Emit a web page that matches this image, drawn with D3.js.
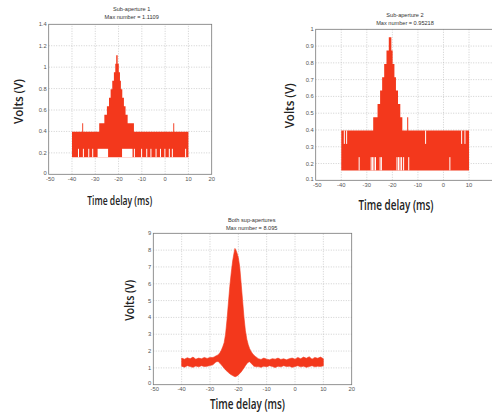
<!DOCTYPE html>
<html>
<head>
<meta charset="utf-8">
<script src="https://cdn.jsdelivr.net/npm/d3@7"></script>
<style>
html, body { margin:0; padding:0; background:#fff; }
svg { display:block; }
</style>
</head>
<body>
<svg id="chart" width="492" height="412"></svg>
<script>
// shared axis ticks
var xTicks = [-50, -40, -30, -20, -10, 0, 10, 20];
var yTicks1 = [0, 0.2, 0.4, 0.6, 0.8, 1, 1.2, 1.4];
var yTicks2 = [0.1, 0.2, 0.3, 0.4, 0.5, 0.6, 0.7, 0.8, 0.9, 1];
var yTicks3 = [0, 1, 2, 3, 4, 5, 6, 7, 8, 9];

var titles1 = ["Sub-aperture 1", "Max number = 1.1109"];
var titles2 = ["Sub-aperture 2", "Max number = 0.95218"];
var titles3 = ["Both sup-apertures", "Max number = 8.095"];

// sub-aperture 1 : quantised signal, upper envelope as steps
var upT1 = [-40, -35.6, -35.2, -28.3, -26.1, -25.0, -24.1, -23.4, -22.7, -22.0, -21.4, -21.0, -20.4, -19.9, -19.4, -19.0, -18.4, -17.7, -17.0, -16.1, -13.4, 3.5, 3.9, 10];
var upV1 = [0.397, 0.476, 0.397, 0.476, 0.555, 0.635, 0.714, 0.793, 0.873, 0.952, 1.031, 1.111, 1.031, 0.952, 0.873, 0.793, 0.714, 0.635, 0.555, 0.476, 0.397, 0.476, 0.397, 0.397];
var floor1 = 0.159;
var notch1 = [[-29, -24.5], [-18.5, -14]];          // lower edge at 0.238
var gapLo1 = [-37.2, -35.1, -32.8, -31.1, -13.2, -10.1, -7.9, -6.1, -3.9, -2.0, -0.1, 1.8, 3.1, 8.8];
var gapHi1 = [];

// sub-aperture 2
var upT2 = [-40, -27.5, -25.8, -24.8, -24.0, -23.2, -22.3, -21.4, -20.4, -19.9, -19.2, -18.6, -17.8, -16.9, -16.1, -14.2, -13.8, 10];
var upV2 = [0.397, 0.476, 0.555, 0.635, 0.714, 0.793, 0.873, 0.952, 0.873, 0.793, 0.714, 0.635, 0.555, 0.476, 0.397, 0.476, 0.397, 0.397];
var floor2 = 0.159;
var notch2 = [];
var gapLo2 = [-33.0, -28.3, -27.8, -27.2, -26.6, -24.8, -24.3, -18.2, -17.6, -17.0, -16.4, -15.6, -13.6, 2.5];
var gapHi2 = [-38.8, -37.9, -7.0, 7.1, 8.4];

// both sub-apertures : envelope of the dense trace
var t3 = [-40, -39, -38, -37, -36, -35, -34, -33, -32, -31, -30,
  -29, -28.5, -28, -27.5, -27, -26.5, -26, -25.5, -25, -24.5, -24, -23.5, -23, -22.5, -22, -21.5, -21.2, -21,
  -20.5, -20, -19.5, -19, -18.5, -18, -17.5, -17, -16.5, -16, -15.5, -15, -14.5, -14, -13.5,
  -13, -12, -11, -10, -9, -8, -7, -6, -5, -4, -3, -2, -1, 0, 1, 2, 3, 4, 5, 6, 7, 8, 9, 10];
var hi3 = [1.58, 1.52, 1.6, 1.54, 1.64, 1.52, 1.58, 1.54, 1.62, 1.56, 1.62,
  1.62, 1.65, 1.7, 1.74, 1.8, 1.9, 2.05, 2.25, 2.5, 3.0, 3.85, 4.85, 5.85, 6.65, 7.35, 7.85, 8.1, 8.05,
  7.85, 7.55, 7.0, 6.0, 5.0, 4.0, 3.2, 2.7, 2.38, 2.14, 1.98, 1.85, 1.75, 1.68, 1.62,
  1.55, 1.5, 1.58, 1.52, 1.48, 1.55, 1.52, 1.58, 1.5, 1.54, 1.48, 1.55, 1.58, 1.52, 1.62, 1.54, 1.64, 1.57, 1.66, 1.52, 1.62, 1.57, 1.64, 1.54];
var lo3 = [1.1, 1.04, 1.13, 1.08, 1.03, 1.11, 1.06, 1.13, 1.08, 1.1, 1.14,
  1.18, 1.26, 1.34, 1.38, 1.36, 1.28, 1.18, 1.08, 0.98, 0.88, 0.8, 0.72, 0.65, 0.59, 0.54, 0.5, 0.48, 0.48,
  0.52, 0.58, 0.66, 0.76, 0.88, 1.0, 1.13, 1.25, 1.34, 1.36, 1.28, 1.18, 1.1, 1.08, 1.06,
  1.08, 1.03, 1.1, 1.06, 1.13, 1.08, 1.02, 1.1, 1.06, 1.13, 1.08, 1.1, 1.03, 1.08, 1.13, 1.06, 1.1, 1.03, 1.08, 1.13, 1.06, 1.1, 1.08, 1.12];

var red = "#f3381c";
var svg = d3.select("#chart");
var W = 492;

function fmt(v) { return String(+v.toFixed(2)); }

function frame(o) {
  var x = d3.scaleLinear().domain([-50, 20]).range(o.xr);
  var y = d3.scaleLinear().domain([o.yt[0], o.yt[o.yt.length - 1]]).range(o.yr);
  var g = svg.append("g");
  var x0 = o.xr[0], x1 = o.xr[1], y0 = o.yr[0], y1 = o.yr[1];

  // dotted grid
  g.selectAll(".gx").data(xTicks.slice(1, -1)).enter().append("line")
    .attr("x1", d => x(d)).attr("x2", d => x(d)).attr("y1", y0).attr("y2", y1)
    .attr("stroke", "#bbb").attr("stroke-width", 0.7).attr("stroke-dasharray", "1,1.5");
  g.selectAll(".gy").data(o.yt.slice(1, -1)).enter().append("line")
    .attr("x1", x0).attr("x2", x1).attr("y1", d => y(d)).attr("y2", d => y(d))
    .attr("stroke", "#bbb").attr("stroke-width", 0.7).attr("stroke-dasharray", "1,1.5");

  o.data = g.append("g");

  // box
  g.append("rect").attr("x", x0).attr("y", y1).attr("width", x1 - x0).attr("height", y0 - y1)
    .attr("fill", "none").attr("stroke", "#777").attr("stroke-width", 0.8);

  // tick labels (labels past the picture edge are left out)
  g.selectAll(".tx").data(xTicks.filter(d => x(d) + 5 < W)).enter().append("text")
    .attr("x", d => x(d) + (d === -50 ? 1.5 : 0)).attr("y", y0 + 4.6).attr("dy", "0.35em")
    .attr("text-anchor", "middle").attr("font-family", "Liberation Sans, Arial, sans-serif")
    .attr("font-size", 5.8).attr("fill", "#555").text(d => d);
  g.selectAll(".ty").data(o.yt).enter().append("text")
    .attr("x", x0 - 2).attr("y", (d, i) => y(d) - (i === 0 ? 1.5 : 0)).attr("dy", "0.35em")
    .attr("text-anchor", "end").attr("font-family", "Liberation Sans, Arial, sans-serif")
    .attr("font-size", 5.8).attr("fill", "#555").text(fmt);

  // title lines
  g.selectAll(".tt").data(o.titles).enter().append("text")
    .attr("x", o.tx).attr("y", (d, i) => o.ty + i * 7.8).attr("dy", "0.35em")
    .attr("text-anchor", "middle").attr("font-family", "Liberation Sans, Arial, sans-serif")
    .attr("font-size", 5.6).attr("fill", "#333").text(d => d);

  // axis labels
  g.append("text").attr("transform", "translate(" + o.ylab[0] + "," + o.ylab[1] + ") rotate(-90)")
    .attr("text-anchor", "middle").attr("dy", "0.35em")
    .attr("font-family", "Open Sans, sans-serif").attr("font-weight", 600)
    .attr("font-size", o.ylab[3]).attr("fill", "#222")
    .attr("textLength", o.ylab[2]).attr("lengthAdjust", "spacingAndGlyphs").text("Volts (V)");
  g.append("text").attr("x", o.xlab[0]).attr("y", o.xlab[1]).attr("dy", "0.35em")
    .attr("text-anchor", "middle")
    .attr("font-family", "Open Sans, sans-serif").attr("font-weight", 600)
    .attr("font-size", o.xlab[3]).attr("fill", "#222")
    .attr("textLength", o.xlab[2]).attr("lengthAdjust", "spacingAndGlyphs").text("Time delay (ms)");

  o.x = x; o.y = y;
  return o;
}

function stepPanel(o, T, V, floor, notches, gapLo, gapHi) {
  var x = o.x, y = o.y, g = o.data;
  var pts = T.map((t, i) => [t, V[i]]);
  g.append("path").datum(pts)
    .attr("d", d3.area().x(d => x(d[0])).y0(y(floor)).y1(d => y(d[1])).curve(d3.curveStepAfter))
    .attr("fill", red);
  // lower edge raised by one level
  g.selectAll(".n").data(notches).enter().append("rect")
    .attr("x", d => x(d[0])).attr("width", d => x(d[1]) - x(d[0]))
    .attr("y", y(0.238)).attr("height", y(floor) - y(0.238)).attr("fill", "#fff");
  g.selectAll(".gl").data(gapLo).enter().append("rect")
    .attr("x", d => x(d) - 0.5).attr("width", 1)
    .attr("y", y(0.238)).attr("height", y(floor) - y(0.238)).attr("fill", "#fff");
  g.selectAll(".gh").data(gapHi).enter().append("rect")
    .attr("x", d => x(d) - 0.5).attr("width", 1)
    .attr("y", y(0.397)).attr("height", y(0.317) - y(0.397)).attr("fill", "#fff");
}

var p1 = frame({ xr: [48.7, 211.7], yr: [174.3, 24.3], yt: yTicks1, titles: titles1, tx: 131.7, ty: 9.3,
  ylab: [18, 101.5, 45, 13], xlab: [119.7, 200.5, 65, 12.5] });
stepPanel(p1, upT1, upV1, floor1, notch1, gapLo1, gapHi1);

var p2 = frame({ xr: [315.7, 494.6], yr: [180.3, 29.3], yt: yTicks2, titles: titles2, tx: 405, ty: 15,
  ylab: [289.3, 105.8, 45, 13], xlab: [396, 205.5, 75, 13.5] });
stepPanel(p2, upT2, upV2, floor2, notch2, gapLo2, gapHi2);

var p3 = frame({ xr: [153.3, 351.7], yr: [384.7, 233.3], yt: yTicks3, titles: titles3, tx: 251.7, ty: 220,
  ylab: [129.3, 300.3, 41, 13], xlab: [247.5, 404.5, 75, 13.5] });
p3.data.append("path").datum(t3.map((t, i) => [t, lo3[i], hi3[i]]))
  .attr("d", d3.area().x(d => p3.x(d[0])).y0(d => p3.y(d[1])).y1(d => p3.y(d[2])))
  .attr("fill", red).attr("stroke", red).attr("stroke-width", 0.6);
</script>
</body>
</html>
